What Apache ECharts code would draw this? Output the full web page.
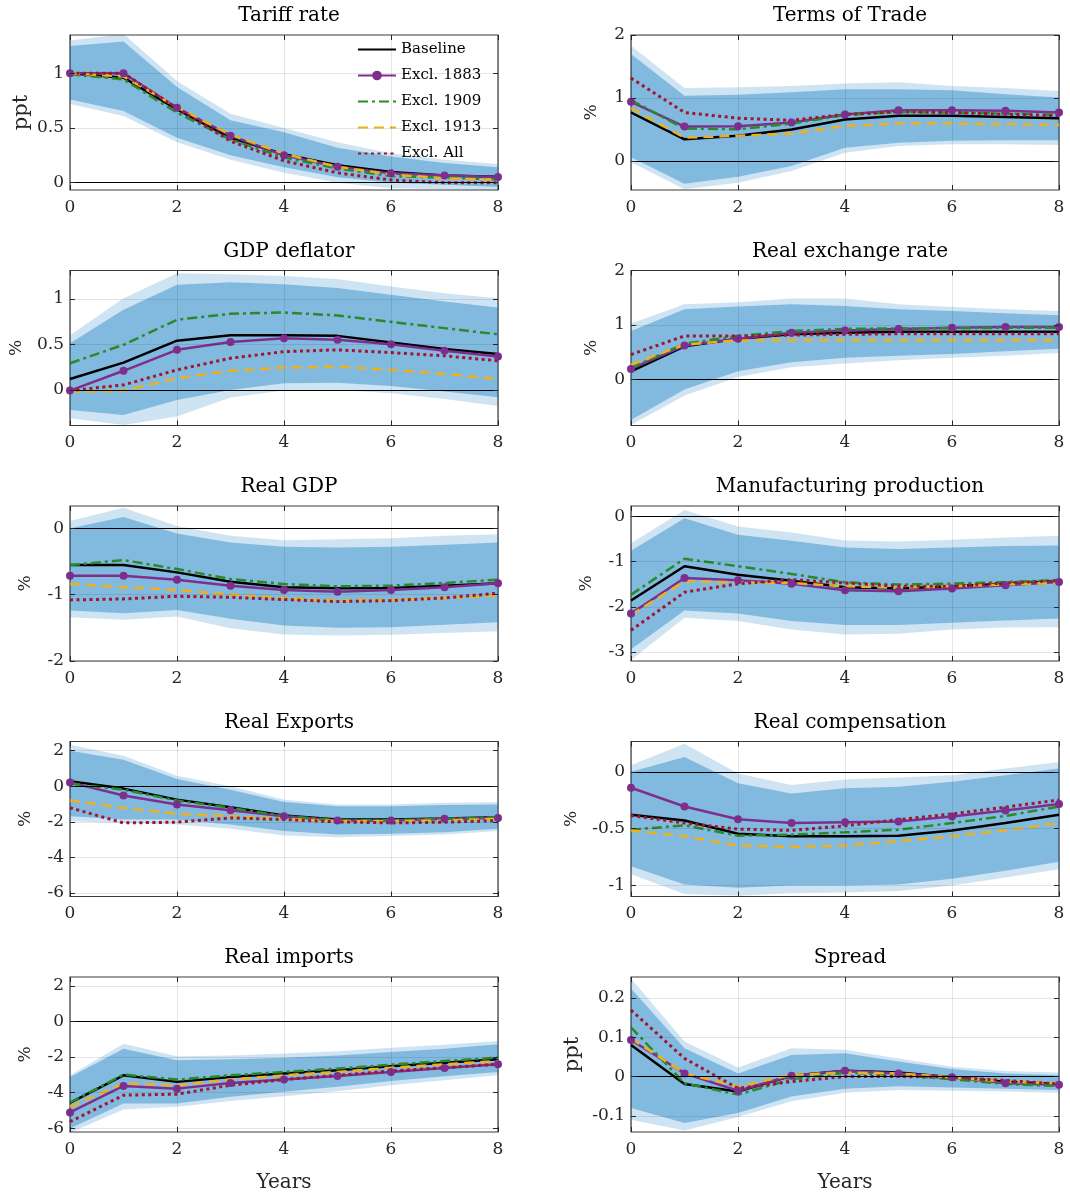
<!DOCTYPE html>
<html>
<head>
<meta charset="utf-8">
<title>Impulse responses to a tariff shock</title>
<script src="https://cdn.jsdelivr.net/npm/echarts@6/dist/echarts.min.js"></script>
<style>
  html, body { margin: 0; padding: 0; background: #fff; }
  #chart { width: 1070px; height: 1196px; }
</style>
</head>
<body>
<div id="chart"></div>
<script>
// horizon in years
const years = [0, 1, 2, 3, 4, 5, 6, 7, 8];
const seriesNames = ['Baseline', 'Excl. 1883', 'Excl. 1909', 'Excl. 1913', 'Excl. All'];

const panelTitles = ['Tariff rate', 'Terms of Trade', 'GDP deflator', 'Real exchange rate', 'Real GDP',
  'Manufacturing production', 'Real Exports', 'Real compensation', 'Real imports', 'Spread'];
const panelUnits = ['ppt', '%', '%', '%', '%', '%', '%', '%', '%', 'ppt'];
const yMins = [-0.067, -0.46, -0.39, -0.84, -2, -3.2, -6.2, -1.096, -6.22, -0.141];
const yMaxs = [1.35, 2, 1.31, 2, 0.335, 0.235, 2.52, 0.267, 2.5, 0.253];
const yTicks = [[0, 0.5, 1], [0, 1, 2], [0, 0.5, 1], [0, 1, 2], [-2, -1, 0],
  [-3, -2, -1, 0], [-6, -4, -2, 0, 2], [-1, -0.5, 0], [-6, -4, -2, 0, 2], [-0.1, 0, 0.1, 0.2]];

// bands: outer low, outer high, inner low, inner high
// lines: Baseline, Excl. 1883, Excl. 1909, Excl. 1913, Excl. All
const tariffBands = [
  [0.72, 0.61, 0.37, 0.21, 0.09, 0.0, -0.05, -0.06, -0.07],
  [1.30, 1.36, 0.93, 0.63, 0.50, 0.37, 0.27, 0.21, 0.17],
  [0.76, 0.655, 0.41, 0.25, 0.14, 0.05, 0.0, -0.02, -0.04],
  [1.25, 1.29, 0.875, 0.57, 0.46, 0.32, 0.24, 0.18, 0.14]
];
const tariffLines = [
  [1.0, 0.96, 0.67, 0.41, 0.26, 0.16, 0.097, 0.065, 0.055],
  [1.0, 1.0, 0.685, 0.43, 0.25, 0.145, 0.085, 0.065, 0.052],
  [0.99, 0.945, 0.64, 0.395, 0.23, 0.13, 0.06, 0.046, 0.03],
  [1.0, 0.97, 0.69, 0.44, 0.265, 0.145, 0.076, 0.04, 0.024],
  [1.0, 1.0, 0.68, 0.38, 0.2, 0.09, 0.024, 0.0, 0.0]
];

const totBands = [
  [-0.02, -0.45, -0.345, -0.16, 0.13, 0.24, 0.265, 0.265, 0.255],
  [1.83, 1.16, 1.17, 1.19, 1.23, 1.25, 1.19, 1.16, 1.11],
  [0.06, -0.36, -0.25, -0.08, 0.21, 0.29, 0.32, 0.33, 0.33],
  [1.70, 1.035, 1.05, 1.09, 1.14, 1.14, 1.125, 1.06, 1.01]
];
const totLines = [
  [0.77, 0.345, 0.40, 0.50, 0.66, 0.72, 0.72, 0.70, 0.68],
  [0.94, 0.546, 0.55, 0.61, 0.74, 0.806, 0.806, 0.796, 0.77],
  [0.966, 0.515, 0.504, 0.594, 0.73, 0.78, 0.77, 0.753, 0.73],
  [0.84, 0.37, 0.40, 0.435, 0.557, 0.594, 0.594, 0.584, 0.573],
  [1.316, 0.77, 0.68, 0.647, 0.74, 0.78, 0.77, 0.743, 0.716]
];

const deflatorBands = [
  [-0.31, -0.385, -0.29, -0.084, -0.007, 0.0, -0.037, -0.1, -0.176],
  [0.60, 1.007, 1.28, 1.27, 1.25, 1.216, 1.135, 1.06, 1.007],
  [-0.22, -0.275, -0.11, 0.0, 0.073, 0.08, 0.044, -0.018, -0.08],
  [0.513, 0.88, 1.154, 1.18, 1.16, 1.117, 1.044, 0.97, 0.905]
];
const deflatorLines = [
  [0.12, 0.30, 0.54, 0.60, 0.60, 0.593, 0.52, 0.45, 0.395],
  [-0.007, 0.21, 0.44, 0.527, 0.568, 0.55, 0.50, 0.43, 0.366],
  [0.293, 0.495, 0.77, 0.835, 0.85, 0.817, 0.747, 0.678, 0.61],
  [-0.018, -0.01, 0.128, 0.21, 0.245, 0.256, 0.22, 0.176, 0.117],
  [-0.007, 0.055, 0.22, 0.348, 0.42, 0.44, 0.41, 0.374, 0.32]
];

const rerBands = [
  [-0.83, -0.29, 0.05, 0.227, 0.295, 0.356, 0.40, 0.44, 0.49],
  [1.03, 1.38, 1.42, 1.485, 1.485, 1.38, 1.33, 1.29, 1.26],
  [-0.74, -0.18, 0.153, 0.32, 0.40, 0.44, 0.47, 0.52, 0.565],
  [0.89, 1.29, 1.34, 1.38, 1.35, 1.29, 1.26, 1.215, 1.18]
];
const rerLines = [
  [0.153, 0.61, 0.75, 0.83, 0.86, 0.877, 0.88, 0.88, 0.88],
  [0.196, 0.626, 0.75, 0.86, 0.90, 0.93, 0.95, 0.963, 0.963],
  [0.215, 0.66, 0.80, 0.89, 0.93, 0.94, 0.94, 0.95, 0.95],
  [0.276, 0.644, 0.718, 0.724, 0.724, 0.724, 0.724, 0.724, 0.724],
  [0.46, 0.80, 0.80, 0.816, 0.83, 0.84, 0.84, 0.84, 0.84]
];

const gdpBands = [
  [-1.34, -1.38, -1.33, -1.505, -1.60, -1.615, -1.605, -1.58, -1.55],
  [0.11, 0.31, 0.035, -0.115, -0.18, -0.165, -0.15, -0.115, -0.09],
  [-1.24, -1.28, -1.23, -1.365, -1.465, -1.50, -1.49, -1.455, -1.415],
  [0.0, 0.17, -0.08, -0.215, -0.28, -0.29, -0.28, -0.25, -0.215]
];
const gdpLines = [
  [-0.555, -0.555, -0.665, -0.805, -0.89, -0.905, -0.9, -0.865, -0.83],
  [-0.715, -0.715, -0.775, -0.865, -0.93, -0.955, -0.93, -0.89, -0.83],
  [-0.555, -0.48, -0.615, -0.765, -0.84, -0.875, -0.865, -0.825, -0.775],
  [-0.84, -0.89, -0.93, -1.0, -1.055, -1.09, -1.08, -1.05, -1.015],
  [-1.08, -1.065, -1.025, -1.04, -1.075, -1.105, -1.09, -1.05, -0.98]
];

const manufBands = [
  [-3.18, -2.24, -2.316, -2.50, -2.61, -2.596, -2.50, -2.46, -2.45],
  [-0.59, 0.147, -0.22, -0.353, -0.53, -0.55, -0.515, -0.463, -0.426],
  [-2.94, -2.08, -2.15, -2.316, -2.40, -2.40, -2.35, -2.30, -2.257],
  [-0.757, -0.037, -0.404, -0.537, -0.684, -0.72, -0.684, -0.654, -0.64]
];
const manufLines = [
  [-1.86, -1.10, -1.29, -1.42, -1.566, -1.596, -1.544, -1.49, -1.434],
  [-2.15, -1.36, -1.41, -1.49, -1.63, -1.654, -1.596, -1.522, -1.45],
  [-1.73, -0.934, -1.10, -1.27, -1.456, -1.507, -1.485, -1.45, -1.41],
  [-2.18, -1.434, -1.456, -1.47, -1.544, -1.58, -1.544, -1.507, -1.47],
  [-2.52, -1.676, -1.49, -1.397, -1.47, -1.544, -1.544, -1.47, -1.419]
];

const exportsBands = [
  [-1.96, -2.06, -2.15, -2.39, -2.77, -2.86, -2.80, -2.71, -2.52],
  [2.34, 1.72, 0.60, 0.0, -0.75, -1.03, -1.03, -0.93, -0.90],
  [-1.68, -1.87, -1.87, -2.15, -2.52, -2.71, -2.67, -2.58, -2.39],
  [2.0, 1.50, 0.41, -0.19, -0.88, -1.12, -1.12, -1.05, -1.03]
];
const exportsLines = [
  [0.28, -0.13, -0.75, -1.18, -1.645, -1.87, -1.87, -1.81, -1.74],
  [0.22, -0.52, -1.03, -1.35, -1.68, -1.93, -1.93, -1.83, -1.78],
  [0.15, -0.19, -0.80, -1.21, -1.68, -1.91, -1.91, -1.83, -1.74],
  [-0.80, -1.21, -1.55, -1.68, -1.83, -1.96, -1.96, -1.93, -1.83],
  [-1.21, -2.06, -2.02, -1.78, -1.87, -2.0, -2.06, -2.02, -1.93]
];

const compBands = [
  [-0.90, -1.075, -1.09, -1.067, -1.06, -1.047, -1.0, -0.93, -0.857],
  [0.058, 0.247, -0.015, -0.116, -0.067, -0.05, -0.03, 0.03, 0.087],
  [-0.83, -0.99, -1.02, -1.0, -1.0, -0.99, -0.94, -0.87, -0.79],
  [0.0, 0.13, -0.10, -0.19, -0.145, -0.13, -0.087, -0.03, 0.03]
];
const compLines = [
  [-0.378, -0.427, -0.544, -0.567, -0.567, -0.561, -0.515, -0.45, -0.378],
  [-0.14, -0.305, -0.416, -0.45, -0.442, -0.436, -0.392, -0.34, -0.282],
  [-0.509, -0.47, -0.561, -0.552, -0.532, -0.509, -0.45, -0.387, -0.305],
  [-0.515, -0.567, -0.648, -0.66, -0.648, -0.61, -0.567, -0.515, -0.45],
  [-0.384, -0.45, -0.503, -0.515, -0.474, -0.42, -0.37, -0.31, -0.247]
];

const importsBands = [
  [-6.26, -4.95, -4.80, -4.47, -4.21, -3.93, -3.59, -3.31, -3.03],
  [-3.03, -1.25, -1.96, -1.91, -1.81, -1.68, -1.48, -1.31, -1.10],
  [-6.02, -4.62, -4.62, -4.24, -3.96, -3.68, -3.35, -3.08, -2.84],
  [-3.12, -1.53, -2.19, -2.13, -2.04, -1.91, -1.72, -1.53, -1.29]
];
const importsLines = [
  [-4.58, -3.03, -3.40, -3.12, -2.93, -2.75, -2.52, -2.32, -2.13],
  [-5.12, -3.63, -3.78, -3.46, -3.27, -3.07, -2.84, -2.62, -2.41],
  [-4.56, -2.99, -3.27, -3.03, -2.84, -2.65, -2.43, -2.22, -2.04],
  [-4.80, -3.50, -3.59, -3.27, -3.03, -2.84, -2.60, -2.41, -2.22],
  [-5.64, -4.15, -4.09, -3.59, -3.27, -3.03, -2.79, -2.60, -2.41]
];

const spreadBands = [
  [-0.11, -0.137, -0.103, -0.063, -0.041, -0.034, -0.036, -0.038, -0.041],
  [0.249, 0.089, 0.023, 0.072, 0.068, 0.046, 0.025, 0.014, 0.010],
  [-0.080, -0.118, -0.093, -0.051, -0.031, -0.025, -0.028, -0.031, -0.034],
  [0.224, 0.072, 0.008, 0.055, 0.059, 0.038, 0.019, 0.008, 0.004]
];
const spreadLines = [
  [0.080, -0.019, -0.038, 0.002, 0.015, 0.010, -0.002, -0.013, -0.019],
  [0.093, 0.008, -0.036, 0.002, 0.015, 0.008, -0.002, -0.017, -0.021],
  [0.125, -0.017, -0.046, -0.007, 0.010, 0.004, -0.007, -0.019, -0.024],
  [0.097, 0.008, -0.025, 0.004, 0.010, 0.008, -0.002, -0.013, -0.017],
  [0.169, 0.046, -0.030, -0.013, 0.0, 0.0, -0.002, -0.010, -0.019]
];

const allBands = [tariffBands, totBands, deflatorBands, rerBands, gdpBands,
  manufBands, exportsBands, compBands, importsBands, spreadBands];
const allLines = [tariffLines, totLines, deflatorLines, rerLines, gdpLines,
  manufLines, exportsLines, compLines, importsLines, spreadLines];

// layout
const FONT = "'DejaVu Serif', serif";
const PLOT_W = 428;
const PLOT_H = 155;
const COL_LEFT = [70, 631];
const ROW_TOP = 35;
const ROW_STEP = 235.5;
const unitGaps = [38, 31, 45, 31, 36, 36, 36, 51, 36, 48];
const unitSizes = [21, 17, 17, 17, 17, 17, 17, 17, 17, 21];

const LINE_STYLES = [
  { color: '#000000', width: 2.5, type: 'solid' },
  { color: '#7E2F8E', width: 2.5, type: 'solid' },
  { color: '#2A8A2A', width: 2.5, type: [10, 4, 3, 4] },
  { color: '#EDB120', width: 2.5, type: [10, 6] },
  { color: '#A2142F', width: 3, type: [3, 3.5] }
];
const BAND_OUTER = 'rgba(0, 114, 189, 0.19)';
const BAND_INNER = 'rgba(0, 114, 189, 0.37)';
const AXIS_COLOR = '#262626';
// grid lines sit above the bands, like the box ticks, so keep them faint
const GRID_COLOR = 'rgba(0, 0, 0, 0.1)';
const AXIS_Z = 5;

const grids = [], xAxes = [], yAxes = [], titles = [], series = [];

// one filled polygon between a low and a high edge, drawn through the axes
function bandSeries(axisRef, low, high, color) {
    return {
        ...axisRef, type: 'custom', silent: true, clip: true,
        data: years.map((x, k) => [x, low[k], high[k]]),
        encode: { x: 0, y: [1, 2] },
        renderItem: (params, api) => {
            if (params.dataIndex !== 0) return null;
            const upper = years.map((x, k) => api.coord([x, high[k]]));
            const lower = years.map((x, k) => api.coord([x, low[k]])).reverse();
            return {
                type: 'polygon',
                shape: { points: upper.concat(lower) },
                style: { fill: color }
            };
        }
    };
}

panelTitles.forEach((title, i) => {
    const col = i % 2;
    const row = Math.floor(i / 2);
    const left = COL_LEFT[col];
    const top = ROW_TOP + row * ROW_STEP;

    grids.push({
        left: left, top: top, width: PLOT_W, height: PLOT_H,
        show: true, backgroundColor: '#fff',
        borderColor: '#3a3a3a', borderWidth: 1.2
    });

    titles.push({
        text: title,
        left: left + PLOT_W / 2,
        textAlign: 'center',
        top: top - 34,
        textStyle: { fontFamily: FONT, fontSize: 20, fontWeight: 'normal', color: '#000' }
    });

    // x axes (bottom with labels, top for the box ticks)
    xAxes.push({
        gridIndex: i, type: 'value', min: 0, max: 8, interval: 2, z: AXIS_Z,
        axisLine: { show: false, onZero: false },
        axisTick: { inside: true, length: 5, lineStyle: { color: AXIS_COLOR } },
        axisLabel: { fontFamily: FONT, fontSize: 17, color: AXIS_COLOR, margin: 9 },
        splitLine: { show: true, lineStyle: { color: GRID_COLOR, width: 1 } },
        name: row === 4 ? 'Years' : '',
        nameLocation: 'middle', nameGap: 41,
        nameTextStyle: { fontFamily: FONT, fontSize: 20, color: AXIS_COLOR }
    });
    xAxes.push({
        gridIndex: i, type: 'value', position: 'top', min: 0, max: 8, interval: 2, z: AXIS_Z,
        axisLine: { show: false, onZero: false },
        axisTick: { inside: true, length: 5, lineStyle: { color: AXIS_COLOR } },
        axisLabel: { show: false },
        splitLine: { show: false }
    });

    // y axes (left with labels, right for the box ticks)
    yAxes.push({
        gridIndex: i, type: 'value', min: yMins[i], max: yMaxs[i], z: AXIS_Z,
        axisLine: { show: false, onZero: false },
        axisTick: { inside: true, length: 5, customValues: yTicks[i], lineStyle: { color: AXIS_COLOR } },
        axisLabel: { customValues: yTicks[i], fontFamily: FONT, fontSize: 17, color: AXIS_COLOR, margin: 6 },
        splitLine: { show: true, lineStyle: { color: GRID_COLOR, width: 1 } },
        name: panelUnits[i], nameLocation: 'middle', nameGap: unitGaps[i],
        nameTextStyle: { fontFamily: FONT, fontSize: unitSizes[i], color: AXIS_COLOR }
    });
    yAxes.push({
        gridIndex: i, type: 'value', position: 'right', min: yMins[i], max: yMaxs[i], z: AXIS_Z,
        axisLine: { show: false, onZero: false },
        axisTick: { inside: true, length: 5, customValues: yTicks[i], lineStyle: { color: AXIS_COLOR } },
        axisLabel: { show: false },
        splitLine: { show: false }
    });

    const bands = allBands[i];
    const lines = allLines[i];
    const axisRef = { xAxisIndex: 2 * i, yAxisIndex: 2 * i };

    series.push(bandSeries(axisRef, bands[0], bands[1], BAND_OUTER));
    series.push(bandSeries(axisRef, bands[2], bands[3], BAND_INNER));

    lines.forEach((vals, s) => {
        const st = LINE_STYLES[s];
        const item = {
            ...axisRef, type: 'line', name: seriesNames[s],
            data: years.map((x, k) => [x, vals[k]]),
            symbol: s === 1 ? 'circle' : 'none',
            symbolSize: 8,
            showSymbol: s === 1,
            itemStyle: { color: st.color },
            lineStyle: { color: st.color, width: st.width, type: st.type }
        };
        if (s === 0) {
            // zero reference line
            item.markLine = {
                silent: true, symbol: 'none', label: { show: false },
                lineStyle: { color: '#000', width: 1, type: 'solid' },
                data: [{ yAxis: 0 }]
            };
        }
        series.push(item);
    });
});

const legendData = seriesNames.map((name, s) =>
    s === 1 ? { name: name } : { name: name, itemStyle: { opacity: 0 } });

const chart = echarts.init(document.getElementById('chart'));
chart.setOption({
    animation: false,
    backgroundColor: '#fff',
    title: titles,
    legend: {
        data: legendData,
        orient: 'vertical',
        left: 352, top: 37,
        itemWidth: 38, itemHeight: 12, itemGap: 11,
        selectedMode: false,
        textStyle: { fontFamily: FONT, fontSize: 15, color: '#000' }
    },
    grid: grids,
    xAxis: xAxes,
    yAxis: yAxes,
    series: series
});
</script>
</body>
</html>
